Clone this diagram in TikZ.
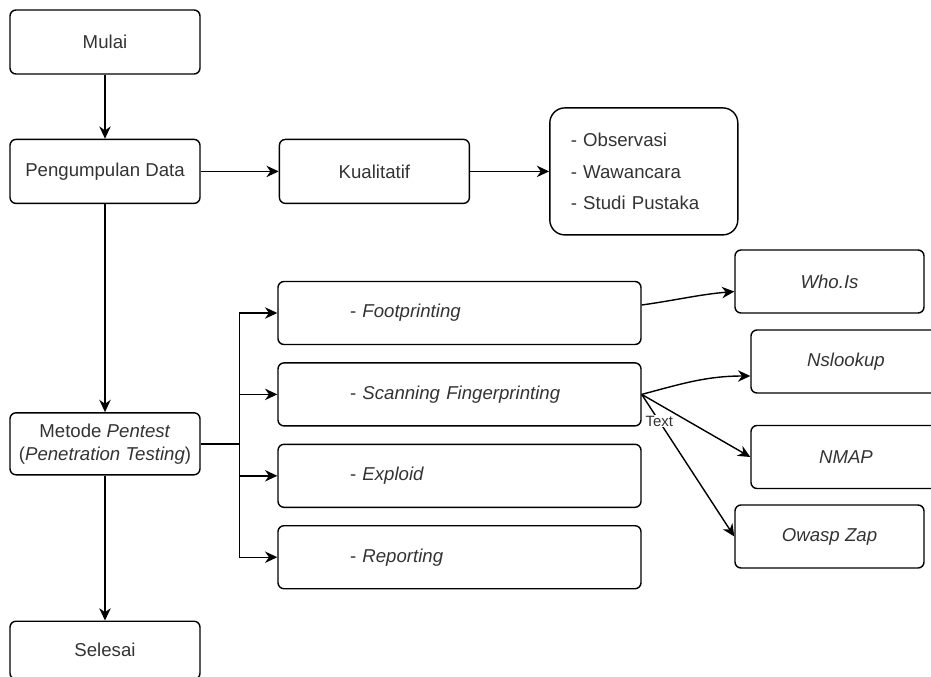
\documentclass[tikz,border=0pt]{standalone}
\usepackage{fontspec}
\setmainfont{Liberation Sans}
\usetikzlibrary{positioning,arrows.meta}
\begin{document}
\begin{tikzpicture}[node distance=1.28cm, font=\fontsize{10.6}{13}\selectfont]
    \tikzstyle{stage} = [rectangle, draw, rounded corners=0.12cm, line width=0.8pt, text=black!80, minimum width=3.8cm, minimum height=1.28cm, align=center]
    \tikzstyle{phase} = [stage, minimum width=7.26cm, minimum height=1.26cm, text width=4.38cm, inner xsep=1.44cm, align=left]
    \tikzstyle{tool} = [stage, minimum width=3.8cm, minimum height=1.26cm]
    \tikzstyle{line} = [draw, line width=0.8pt, -{Stealth[length=7pt,width=6.5pt]}]

    \clip (0,0) rectangle (18.62,-13.54);

    \node [stage] (mulai) at (2.1,-0.84) {Mulai};
    \node [stage, below=of mulai] (kumpul) {Pengumpulan Data};
    \node [stage, right=1.56cm of kumpul] (kualitatif) {Kualitatif};
    \node [stage, right=1.58cm of kualitatif, minimum width=3.76cm, minimum height=2.54cm, rounded corners=0.3cm,
           text width=2.92cm, inner xsep=0.42cm, align=left, font=\fontsize{10.6}{18}\selectfont] (metode data) {- Observasi\\- Wawancara\\- Studi Pustaka};
    \node [stage, below=4.16cm of kumpul, minimum height=1.24cm] (pentest) {Metode \textit{Pentest}\\(\textit{Penetration Testing})};
    \node [stage, below=2.9cm of pentest, minimum height=1.16cm] (selesai) {Selesai};

    % tahapan pentest
    \node [phase] (foot) at (9.19,-6.26) {- \textit{Footprinting}};
    \node [phase, below=0.34cm of foot] (scan) {- \textit{Scanning Fingerprinting}};
    \node [phase, below=0.34cm of scan] (exploid) {- \textit{Exploid}};
    \node [phase, below=0.34cm of exploid] (report) {- \textit{Reporting}};

    % tools
    \node [tool, minimum width=3.78cm] (whois) at (16.59,-5.63) {\textit{Who.Is}};
    \node [tool] (nslookup) at (16.92,-7.23) {\textit{Nslookup}};
    \node [tool] (nmap) at (16.92,-9.14) {\textit{NMAP}};
    \node [tool, minimum width=3.78cm] (owasp) at (16.59,-10.73) {\textit{Owasp Zap}};

    \draw [line] (mulai) -- (kumpul);
    \draw [line] (kumpul) -- (kualitatif);
    \draw [line] (kualitatif) -- (metode data);
    \draw [line] (kumpul) -- (pentest);
    \draw [line] (pentest) -- (selesai);

    \coordinate [right=0.78cm of pentest.east] (fork);
    \draw [line] (pentest.east) -- (fork) |- (foot.west);
    \draw [line] (fork) |- (scan.west);
    \draw [line] (fork) |- (exploid.west);
    \draw [line] (fork) |- (report.west);

    \draw [line] ([yshift=0.16cm]foot.east) to[out=8, in=185] ([yshift=-0.2cm]whois.west);
    \draw [line] (scan.east) to[out=15, in=180] ([yshift=-0.29cm]nslookup.west);
    \draw [line] (scan.east) -- (nmap.west);
    \draw [line] (scan.east) -- node [pos=0.19, fill=white, inner sep=0.5pt, text=black!80, font=\fontsize{8.5}{10}\selectfont] {Text} (owasp.west);
\end{tikzpicture}
\end{document}
